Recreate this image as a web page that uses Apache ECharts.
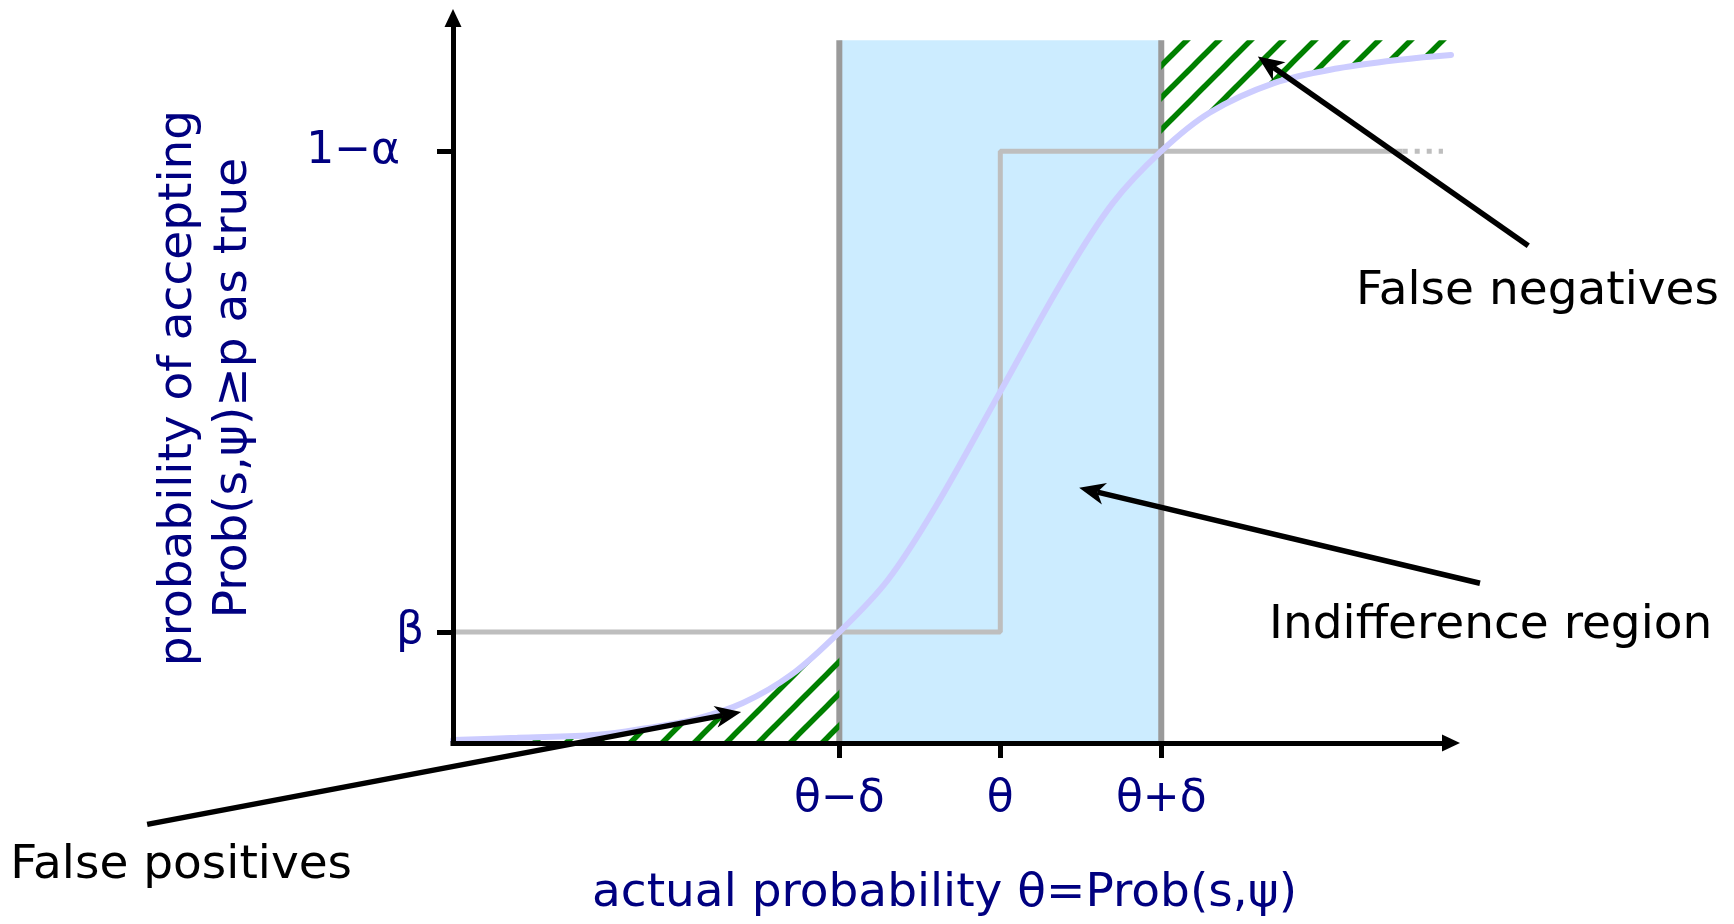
<!DOCTYPE html>
<html>
<head>
<meta charset="utf-8">
<script src="https://cdn.jsdelivr.net/npm/echarts@6/dist/echarts.min.js"></script>
<style>
  html, body { margin: 0; padding: 0; background: #ffffff; }
  #chart { width: 1734px; height: 924px; }
</style>
</head>
<body>
<div id="chart"></div>
<script>
// Axis extents (schematic units: θ = 0.5, δ = 0.1)
const xRange = [0.16, 0.78];
const yRange = [0, 0.98];

// Tick positions and their labels
const xTickValues = [0.4, 0.5, 0.6];
const xTickLabels = ['θ−δ', 'θ', 'θ+δ'];
const yTickValues = [0.15, 0.8];
const yTickLabels = ['β', '1−α'];

// Indifference region [θ−δ, θ+δ] and its height
const regionX = [0.4, 0.6];
const regionTop = [0.95];

// Ideal test: jumps from β to 1−α exactly at θ
const idealX = [0.16, 0.5, 0.5, 0.75];
const idealY = [0.15, 0.15, 0.8, 0.8];
const idealTailX = [0.75, 0.775];
const idealTailY = [0.8, 0.8];

// Actual probability of accepting, as a function of θ
const curveX = [0.16, 0.20, 0.25, 0.28, 0.31, 0.34, 0.37, 0.40, 0.43, 0.46, 0.50, 0.54, 0.57, 0.60, 0.63, 0.67, 0.71, 0.75, 0.78];
const curveY = [0.004, 0.007, 0.011, 0.02, 0.032, 0.054, 0.092, 0.15, 0.22, 0.32, 0.475, 0.63, 0.73, 0.80, 0.852, 0.892, 0.912, 0.924, 0.93];

// Callout labels with arrows, placed in axis units
const callouts = [
  { text: 'False positives',     tail: [-0.03, -0.11], tip: [0.339, 0.042], anchor: [-0.115, -0.166] },
  { text: 'False negatives',     tail: [0.828, 0.672], tip: [0.66, 0.928],  anchor: [0.721, 0.61] },
  { text: 'Indifference region', tail: [0.798, 0.216], tip: [0.549, 0.345], anchor: [0.667, 0.158] }
];

const FONT = 'DejaVu Sans';
const NAVY = '#000080';

const curve = curveX.map((x, i) => [x, curveY[i]]);
const ideal = idealX.map((x, i) => [x, idealY[i]]);
const idealTail = idealTailX.map((x, i) => [x, idealTailY[i]]);
const lowTail = curve.filter(p => p[0] <= regionX[0] + 1e-9);
const highTail = curve.filter(p => p[0] >= regionX[1] - 1e-9);

function pick(values, labels, v) {
  const i = values.findIndex(t => Math.abs(t - v) < 1e-9);
  return i < 0 ? '' : labels[i];
}

// Diagonal green hatching used for the error areas
function hatch(offsetX) {
  const c = document.createElement('canvas');
  c.width = 32; c.height = 32;
  const g = c.getContext('2d');
  g.strokeStyle = '#008000';
  g.lineWidth = 5.5;
  [-32, 0, 32].forEach(function (d) {
    g.beginPath();
    g.moveTo(d - 4, 36);
    g.lineTo(d + 36, -4);
    g.stroke();
  });
  return { image: c, repeat: 'repeat', x: offsetX, y: 0 };
}

const chart = echarts.init(document.getElementById('chart'), null, { renderer: 'canvas' });

chart.setOption({
  animation: false,
  backgroundColor: '#ffffff',
  grid: { left: 453, right: 283, top: 18, bottom: 181, containLabel: false, outerBoundsMode: 'none' },
  xAxis: {
    type: 'value', min: xRange[0], max: xRange[1], z: 3,
    axisLine: {
      show: true, onZero: false, symbol: ['none', 'triangle'], symbolSize: [17, 18],
      lineStyle: { color: '#000', width: 5, cap: 'square' }
    },
    axisTick: { show: true, customValues: xTickValues, length: 15, lineStyle: { color: '#000', width: 5 } },
    axisLabel: {
      customValues: xTickValues, margin: 35,
      formatter: v => pick(xTickValues, xTickLabels, v),
      color: NAVY, fontSize: 44, fontFamily: FONT
    },
    splitLine: { show: false },
    name: 'actual probability θ=Prob(s,ψ)', nameLocation: 'middle', nameGap: 127,
    nameTextStyle: { color: NAVY, fontSize: 47, fontFamily: FONT, lineHeight: 47, padding: [0, 15, 0, 0] }
  },
  yAxis: {
    type: 'value', min: yRange[0], max: yRange[1], z: 3,
    axisLine: {
      show: true, onZero: false, symbol: ['none', 'triangle'], symbolSize: [17, 18],
      lineStyle: { color: '#000', width: 5, cap: 'square' }
    },
    axisTick: { show: true, customValues: yTickValues, length: 16, lineStyle: { color: '#000', width: 5 } },
    axisLabel: {
      customValues: yTickValues, margin: 29,
      formatter: function (v) {
        const s = pick(yTickValues, yTickLabels, v);
        return s === 'β' ? '{b|' + s + '}' : '{a|' + s + '}';
      },
      color: NAVY, fontSize: 44, fontFamily: FONT,
      rich: {
        a: { color: NAVY, fontSize: 44, fontFamily: FONT, padding: [0, 24, 0, 0] },
        b: { color: NAVY, fontSize: 44, fontFamily: FONT }
      }
    },
    splitLine: { show: false },
    name: 'probability of accepting\nProb(s,ψ)≥p as true', nameLocation: 'middle', nameGap: 192, nameRotate: 90,
    nameTextStyle: { color: NAVY, fontSize: 47, fontFamily: FONT, lineHeight: 55, align: 'center', padding: [0, 15, 0, 0] }
  },
  series: [
    {
      name: 'indifference region', type: 'custom', z: 1, silent: true,
      data: [[regionX[0], regionX[1], regionTop[0]]],
      encode: { x: [0, 1], y: 2 },
      renderItem: function (params, api) {
        const p0 = api.coord([api.value(0), 0]);
        const p1 = api.coord([api.value(1), api.value(2)]);
        return {
          type: 'group',
          children: [
            { type: 'rect', shape: { x: p0[0], y: p1[1], width: p1[0] - p0[0], height: p0[1] - p1[1] }, style: { fill: '#ccecff' } },
            { type: 'line', shape: { x1: p0[0], y1: p0[1], x2: p0[0], y2: p1[1] }, style: { stroke: '#9a9a9a', lineWidth: 6 } },
            { type: 'line', shape: { x1: p1[0], y1: p0[1], x2: p1[0], y2: p1[1] }, style: { stroke: '#9a9a9a', lineWidth: 6 } }
          ]
        };
      }
    },
    {
      name: 'false positives', type: 'line', z: 2, silent: true,
      data: lowTail, showSymbol: false, smooth: 0.35,
      lineStyle: { width: 0, opacity: 0 },
      areaStyle: { color: hatch(29), origin: 'start', opacity: 1 }
    },
    {
      name: 'false negatives', type: 'line', z: 2, silent: true,
      data: highTail, showSymbol: false, smooth: 0.35,
      lineStyle: { width: 0, opacity: 0 },
      areaStyle: { color: hatch(11), origin: regionTop[0], opacity: 1 }
    },
    {
      name: 'ideal', type: 'line', z: 2, silent: true,
      data: ideal, showSymbol: false,
      lineStyle: { color: '#bebebe', width: 5 }
    },
    {
      name: 'ideal tail', type: 'line', z: 2, silent: true,
      data: idealTail, showSymbol: false,
      lineStyle: { color: '#bebebe', width: 5, type: [5, 7] }
    },
    {
      name: 'acceptance', type: 'line', z: 2, silent: true,
      data: curve, showSymbol: false, smooth: 0.35,
      lineStyle: { color: '#ccccff', width: 6, cap: 'round' }
    },
    {
      name: 'callouts', type: 'custom', z: 10, silent: true,
      data: callouts.map(c => c.tip),
      renderItem: function (params, api) {
        const c = callouts[params.dataIndex];
        const a = api.coord(c.tail), b = api.coord(c.tip), t = api.coord(c.anchor);
        const dx = b[0] - a[0], dy = b[1] - a[1];
        const len = Math.hypot(dx, dy);
        const ux = dx / len, uy = dy / len, nx = -uy, ny = ux;
        const L = 26, W = 11;
        const back = [b[0] - ux * L, b[1] - uy * L];
        const notch = [b[0] - ux * L * 0.72, b[1] - uy * L * 0.72];
        return {
          type: 'group',
          children: [
            { type: 'line', shape: { x1: a[0], y1: a[1], x2: notch[0], y2: notch[1] }, style: { stroke: '#000', lineWidth: 5.5 } },
            { type: 'polygon', shape: { points: [b, [back[0] + nx * W, back[1] + ny * W], notch, [back[0] - nx * W, back[1] - ny * W]] }, style: { fill: '#000' } },
            { type: 'text', x: t[0], y: t[1], style: { text: c.text, fill: '#000', font: '47px "DejaVu Sans"', align: 'left', verticalAlign: 'middle' } }
          ]
        };
      }
    }
  ]
});
</script>
</body>
</html>
